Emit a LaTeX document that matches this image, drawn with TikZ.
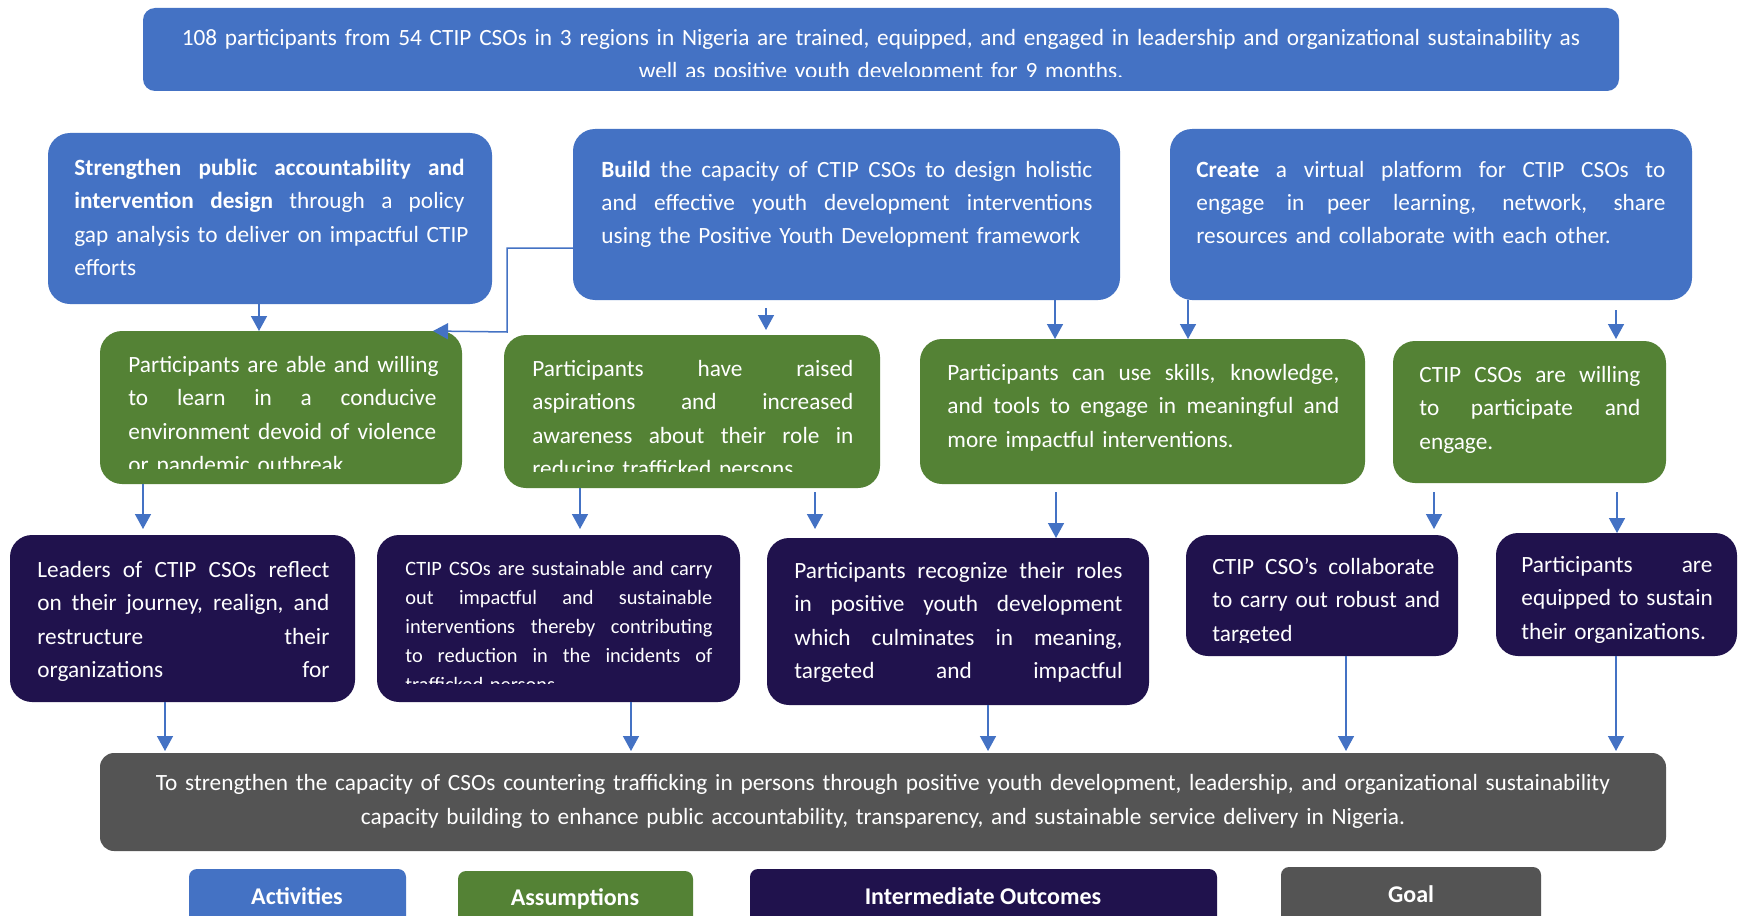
\documentclass[tikz,border=0pt]{standalone}
\usepackage{fontspec}
\setmainfont{Carlito}
\usetikzlibrary{arrows.meta,fit}

\definecolor{actblue}{HTML}{4472C4}
\definecolor{asmgreen}{HTML}{548235}
\definecolor{outnavy}{HTML}{20124D}
\definecolor{goalgrey}{HTML}{545454}

% font sizes
\newcommand\mainfs{\fontsize{11.65}{16.65}\selectfont}
\newcommand\smallfs{\fontsize{10.2}{14.5}\selectfont}
\newcommand\goalfs{\fontsize{11.65}{17}\selectfont}
\newcommand\legfs{\fontsize{12}{14}\selectfont}
% one fully justified line, as wide as the current text block
% (align=left makes word spaces rigid, so give them stretch again here)
\newlength\jlw
\newcommand\jl[1]{{\spaceskip=.3333em plus 1em\xspaceskip=.3333em plus 1em\makebox[\jlw][s]{#1}}}

\tikzset{
  box/.style={inner sep=0pt, outer sep=0pt, rounded corners=11pt},
  actbox/.style={box, fill=actblue},
  asmbox/.style={box, fill=asmgreen},
  outbox/.style={box, fill=outnavy},
  goalbox/.style={box, fill=goalgrey, rounded corners=7pt},
  legbox/.style={box, rounded corners=4pt},
  tw/.style={text width=#1, execute at begin node={\setlength{\jlw}{#1}}},
  txt/.style={inner sep=0pt, anchor=north west, text=white, align=left, font=\mainfs},
  ctxt/.style={inner sep=0pt, anchor=north, text=white, align=center, font=\mainfs},
  legtxt/.style={inner sep=0pt, anchor=base, text=white, font=\legfs\bfseries},
  arr/.style={draw=actblue, line width=0.75pt, -{Triangle[length=7.5pt,width=8pt]}},
}

\begin{document}
\begin{tikzpicture}[x=0.5pt, y=-0.5pt]
\useasboundingbox (0,0) rectangle (1739,915);
\fill[white] (0,0) rectangle (1739,915);

% ---------------- top banner ----------------
\node[actbox, rounded corners=6pt, fit={(143,8) (1619,91)}] (top) {};
\begin{scope}
  \clip (143,8) rectangle (1619,77);
  \node[ctxt, text width=738pt] (top-t) at (881,21.7) {\strut 108 participants from 54 CTIP CSOs in 3 regions in Nigeria are trained, equipped, and engaged in leadership and organizational sustainability as\\
  well as positive youth development for 9 months.};
\end{scope}

% ---------------- activities ----------------
\node[actbox, fit={(48,133) (492,304)}] (A) {};
\node[txt, tw=195pt] (A-t) at (74,151.7) {\strut\jl{\textbf{Strengthen public accountability and}}\\
\jl{\textbf{intervention design} through a policy}\\
\jl{gap analysis to deliver on impactful CTIP}\\
efforts};

\node[actbox, fit={(573,129) (1120,300)}] (B) {};
\node[txt, tw=245.5pt] (B-t) at (601,153.4) {\strut\jl{\textbf{Build} the capacity of CTIP CSOs to design holistic}\\
\jl{and effective youth development interventions}\\
using the Positive Youth Development framework};

\node[actbox, fit={(1170,129) (1692,300)}] (C) {};
\node[txt, tw=234.5pt] (C-t) at (1196,153.4) {\strut\jl{\textbf{Create} a virtual platform for CTIP CSOs to}\\
\jl{engage in peer learning, network, share}\\
resources and collaborate with each other.};

% ---------------- assumptions ----------------
\node[asmbox, fit={(100,331) (462,484)}] (G1) {};
\begin{scope}
  \clip (100,331) rectangle (462,468);
  \node[txt, tw=154pt] (G1-t) at (128,348.7) {\strut\jl{Participants are able and willing}\\
  \jl{to learn in a conducive}\\
  \jl{environment devoid of violence}\\
  or pandemic outbreak};
\end{scope}

\node[asmbox, fit={(504,335) (880,488)}] (G2) {};
\begin{scope}
  \clip (504,335) rectangle (880,471.7);
  \node[txt, tw=160.5pt] (G2-t) at (532,352.7) {\strut\jl{Participants have raised}\\
  \jl{aspirations and increased}\\
  \jl{awareness about their role in}\\
  reducing trafficked persons};
\end{scope}

\node[asmbox, fit={(920,339) (1365,484)}] (G3) {};
\node[txt, tw=196pt] (G3-t) at (947,356.7) {\strut\jl{Participants can use skills, knowledge,}\\
\jl{and tools to engage in meaningful and}\\
more impactful interventions.};

\node[asmbox, fit={(1393,341) (1666,483)}] (G4) {};
\node[txt, tw=110.5pt] (G4-t) at (1419,358.7) {\strut\jl{CTIP CSOs are willing}\\
\jl{to participate and}\\
engage.};

% ---------------- intermediate outcomes ----------------
\node[outbox, fit={(10,535) (355,702)}] (D1) {};
\begin{scope}
  \clip (10,535) rectangle (355,690);
  \node[txt, tw=146pt] (D1-t) at (37,553.7) {\strut\jl{Leaders of CTIP CSOs reflect}\\
  \jl{on their journey, realign, and}\\
  \jl{restructure their}\\
  \jl{organizations for}};
\end{scope}

\node[outbox, fit={(377,535) (740,702)}] (D2) {};
\begin{scope}
  \clip (377,535) rectangle (740,683);
  \node[txt, font=\smallfs, tw=153.5pt] (D2-t) at (405,554.7) {\strut\jl{CTIP CSOs are sustainable and carry}\\
  \jl{out impactful and sustainable}\\
  \jl{interventions thereby contributing}\\
  \jl{to reduction in the incidents of}\\
  trafficked persons};
\end{scope}

\node[outbox, fit={(767,538) (1149,705)}] (D3) {};
\begin{scope}
  \clip (767,538) rectangle (1149,692);
  \node[txt, tw=164pt] (D3-t) at (794,554.7) {\strut\jl{Participants recognize their roles}\\
  \jl{in positive youth development}\\
  \jl{which culminates in meaning,}\\
  \jl{targeted and impactful}};
\end{scope}

\node[outbox, fit={(1186,535) (1458,656)}] (D4) {};
\begin{scope}
  \clip (1186,535) rectangle (1458,642);
  \node[txt, tw=111pt] (D4-t) at (1212,550.7) {\strut\jl{CTIP CSO’s collaborate}\\
  \jl{to carry out robust and}\\
  targeted};
\end{scope}

\node[outbox, fit={(1496,533) (1737,656)}] (D5) {};
\node[txt, tw=95.5pt] (D5-t) at (1521,548.7) {\strut\jl{Participants are}\\
\jl{equipped to sustain}\\
their organizations.};

% ---------------- goal ----------------
\node[goalbox, fit={(100,753) (1666,851)}] (goal) {};
\node[ctxt, font=\goalfs, text width=783pt] (goal-t) at (883,766) {\strut To strengthen the capacity of CSOs countering trafficking in persons through positive youth development, leadership, and organizational sustainability\\
capacity building to enhance public accountability, transparency, and sustainable service delivery in Nigeria.};

% ---------------- legend ----------------
\begin{scope}
  \clip (0,0) rectangle (1739,915);
  \node[legbox, fill=actblue, fit={(189,869) (406,935)}] (L1) {};
  \node[legbox, fill=asmgreen, fit={(458,871) (693,935)}] (L2) {};
  \node[legbox, fill=outnavy, fit={(750,869) (1217,935)}] (L3) {};
  \node[legbox, fill=goalgrey, fit={(1281,867) (1541,935)}] (L4) {};
  \node[legtxt] (L1-t) at (297,904) {Activities};
  \node[legtxt] (L2-t) at (575,905) {Assumptions};
  \node[legtxt] (L3-t) at (983,904) {Intermediate Outcomes};
  \node[legtxt] (L4-t) at (1411,902) {Goal};
\end{scope}

% ---------------- connectors ----------------
\draw[arr] (A.south -| 259,0) -- (G1.north -| 259,0);
\draw[arr] (B.west |- 0,248) -| (507,332) -- (G1.north -| 433,0);
\draw[arr, shorten <=4pt, shorten >=2.5pt] (B.south -| 766,0) -- (G2.north -| 766,0);
\draw[arr] (B.south -| 1055,0) -- (G3.north -| 1055,0);
\draw[arr] (C.south -| 1188,0) -- (G3.north -| 1188,0);
\draw[arr, shorten <=5pt, shorten >=1pt] (C.south -| 1616,0) -- (G4.north -| 1616,0);

\draw[arr, shorten >=3pt] (G1.south -| 143,0) -- (D1.north -| 143,0);
\draw[arr, shorten >=3pt] (G2.south -| 580,0) -- (D2.north -| 580,0);
\draw[arr, shorten <=2pt, shorten >=4.5pt] (G2.south -| 815,0) -- (D3.north -| 815,0);
\draw[arr, shorten <=4pt] (G3.south -| 1056,0) -- (D3.north -| 1056,0);
\draw[arr, shorten <=4.5pt, shorten >=3pt] (G4.south -| 1434,0) -- (D4.north -| 1434,0);
\draw[arr, shorten <=4.5pt] (G4.south -| 1617,0) -- (D5.north -| 1617,0);

\draw[arr, shorten >=1pt] (D1.south -| 165,0) -- (goal.north -| 165,0);
\draw[arr, shorten >=1pt] (D2.south -| 631,0) -- (goal.north -| 631,0);
\draw[arr, shorten >=1pt] (D3.south -| 988,0) -- (goal.north -| 988,0);
\draw[arr, shorten >=1pt] (D4.south -| 1346,0) -- (goal.north -| 1346,0);
\draw[arr, shorten >=1pt] (D5.south -| 1616,0) -- (goal.north -| 1616,0);
\end{tikzpicture}
\end{document}
